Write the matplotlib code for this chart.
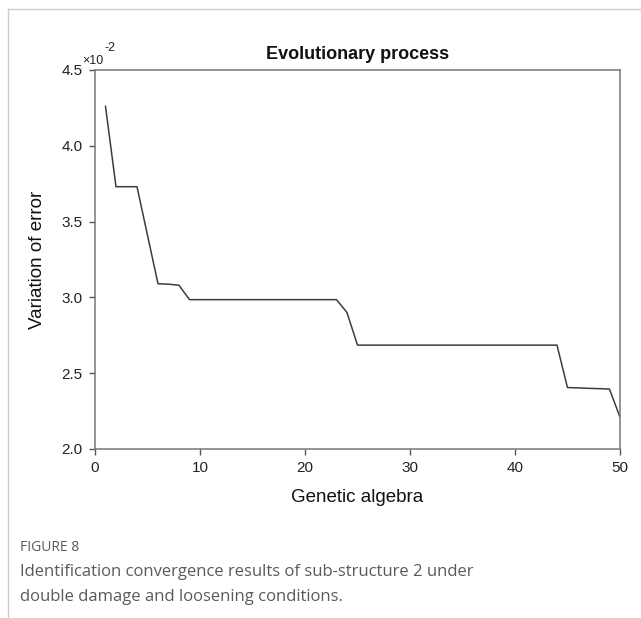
#!/usr/bin/env python3
"""
Convergence curve of the genetic algorithm (figure 8 reproduction).
"""

import matplotlib
matplotlib.use('Agg')
import matplotlib.pyplot as plt
from matplotlib.lines import Line2D

# generation number and error (in units of 1e-2)
generations = list(range(1, 51))
error = [4.26, 3.73, 3.73, 3.73, 3.41, 3.09, 3.087, 3.08, 2.985, 2.985,
         2.985, 2.985, 2.985, 2.985, 2.985, 2.985, 2.985, 2.985, 2.985, 2.985,
         2.985, 2.985, 2.985, 2.90, 2.685, 2.685, 2.685, 2.685, 2.685, 2.685,
         2.685, 2.685, 2.685, 2.685, 2.685, 2.685, 2.685, 2.685, 2.685, 2.685,
         2.685, 2.685, 2.685, 2.685, 2.405, 2.403, 2.40, 2.398, 2.395, 2.21]

x_ticks = [0, 10, 20, 30, 40, 50]
y_ticks = [2.0, 2.5, 3.0, 3.5, 4.0, 4.5]

caption_head = 'FIGURE 8'
caption_lines = ['Identification convergence results of sub-structure 2 under',
                 'double damage and loosening conditions.']


def main():
    plt.rcParams['font.family'] = ['Liberation Sans', 'DejaVu Sans']

    fig = plt.figure(figsize=(6.41, 6.18), dpi=100)
    ax = fig.add_axes([0.1482, 0.2735, 0.819, 0.6133])

    ax.plot(generations, error, color='#3c3c3c', linewidth=1.1)

    ax.set_xlim(0, 50)
    ax.set_ylim(2.0, 4.5)
    ax.set_xticks(x_ticks)
    ax.set_yticks(y_ticks)
    ax.set_yticklabels([f'{v:.1f}' for v in y_ticks])
    ax.tick_params(direction='out', length=4, width=1.0, colors='#555555',
                   labelcolor='#222222', labelsize=11, pad=5)
    for side in ['left', 'right', 'top', 'bottom']:
        ax.spines[side].set_color('#777777')
        ax.spines[side].set_linewidth(1.1)

    ax.set_xlabel('Genetic algebra', fontsize=13.5, color='#111111', labelpad=10)
    ax.set_ylabel('Variation of error', fontsize=13.5, color='#111111', labelpad=11)
    ax.set_title('Evolutionary process', fontsize=13, fontweight='bold',
                 color='#111111', pad=8)

    # axis multiplier at top left
    fig.text(0.128, 0.897, '\u00d710', fontsize=9, color='#222222')
    fig.text(0.163, 0.917, '-2', fontsize=9, color='#222222')

    # page frame lines
    fig.add_artist(Line2D([0.012, 1.0], [0.986, 0.986], color='#cccccc',
                          linewidth=1.0))
    fig.add_artist(Line2D([0.012, 0.012], [0.0, 0.986], color='#cccccc',
                          linewidth=1.0))

    # caption
    cap_font = ['Open Sans', 'DejaVu Sans']
    fig.text(0.031, 0.109, caption_head, fontsize=10, color='#5a5a5a',
             family=cap_font)
    fig.text(0.031, 0.068, caption_lines[0], fontsize=12, color='#5a5a5a',
             family=cap_font)
    fig.text(0.031, 0.027, caption_lines[1], fontsize=12, color='#5a5a5a',
             family=cap_font)

    fig.savefig('out.png', dpi=100)
    plt.close(fig)


if __name__ == '__main__':
    main()
